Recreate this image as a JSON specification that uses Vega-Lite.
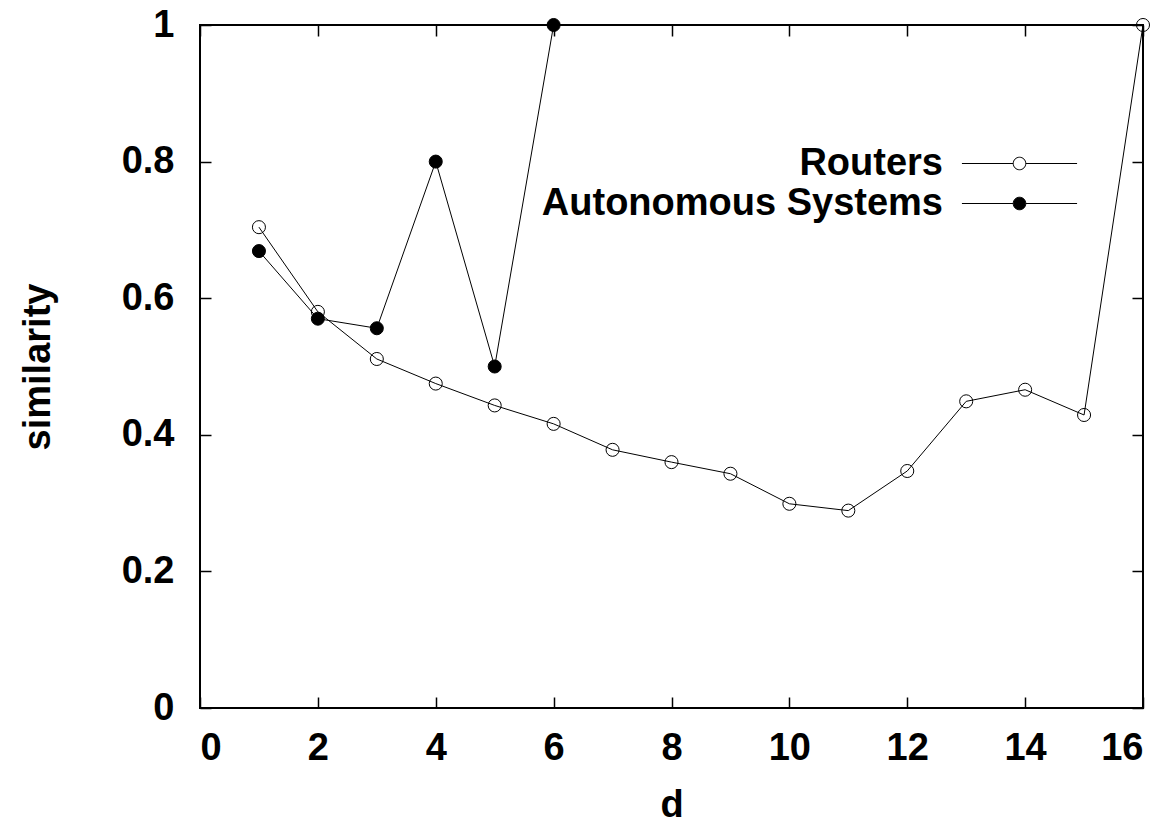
{
  "$schema": "https://vega.github.io/schema/vega-lite/v6.json",
  "width": 943,
  "height": 683,
  "autosize": "none",
  "padding": {"left": 200, "top": 25, "right": 33, "bottom": 119},
  "background": "white",
  "config": {
    "font": "Liberation Sans",
    "view": {"stroke": "#000", "strokeWidth": 2},
    "axis": {
      "domain": false,
      "grid": false,
      "tickColor": "#000",
      "tickWidth": 1.5,
      "tickSize": -11,
      "labelFont": "Liberation Sans",
      "labelFontSize": 38,
      "labelFontWeight": "bold",
      "labelColor": "#000",
      "titleFont": "Liberation Sans",
      "titleFontSize": 38,
      "titleFontWeight": "bold",
      "titleColor": "#000"
    },
    "legend": {
      "labelFont": "Liberation Sans",
      "labelFontSize": 38,
      "labelFontWeight": "bold",
      "labelColor": "#000"
    }
  },
  "data": {
    "values": [
      {"d": 1, "series": "Routers", "similarity": 0.704},
      {"d": 2, "series": "Routers", "similarity": 0.580},
      {"d": 3, "series": "Routers", "similarity": 0.511},
      {"d": 4, "series": "Routers", "similarity": 0.475},
      {"d": 5, "series": "Routers", "similarity": 0.443},
      {"d": 6, "series": "Routers", "similarity": 0.416},
      {"d": 7, "series": "Routers", "similarity": 0.378},
      {"d": 8, "series": "Routers", "similarity": 0.360},
      {"d": 9, "series": "Routers", "similarity": 0.343},
      {"d": 10, "series": "Routers", "similarity": 0.299},
      {"d": 11, "series": "Routers", "similarity": 0.289},
      {"d": 12, "series": "Routers", "similarity": 0.347},
      {"d": 13, "series": "Routers", "similarity": 0.449},
      {"d": 14, "series": "Routers", "similarity": 0.466},
      {"d": 15, "series": "Routers", "similarity": 0.429},
      {"d": 16, "series": "Routers", "similarity": 1.0},
      {"d": 1, "series": "Autonomous Systems", "similarity": 0.669},
      {"d": 2, "series": "Autonomous Systems", "similarity": 0.570},
      {"d": 3, "series": "Autonomous Systems", "similarity": 0.556},
      {"d": 4, "series": "Autonomous Systems", "similarity": 0.8},
      {"d": 5, "series": "Autonomous Systems", "similarity": 0.5},
      {"d": 6, "series": "Autonomous Systems", "similarity": 1.0}
    ]
  },
  "layer": [
    {
      "mark": {"type": "line", "color": "#000", "strokeWidth": 1},
      "encoding": {
        "x": {
          "field": "d", "type": "quantitative",
          "scale": {"domain": [0, 16], "nice": false, "zero": false},
          "axis": {"orient": "bottom", "values": [0, 2, 4, 6, 8, 10, 12, 14, 16], "labelPadding": 32, "title": "d", "titlePadding": 19}
        },
        "y": {
          "field": "similarity", "type": "quantitative",
          "scale": {"domain": [0, 1], "nice": false},
          "axis": {"orient": "left", "values": [0, 0.2, 0.4, 0.6, 0.8, 1], "format": "~g", "labelPadding": 37, "title": "similarity", "titlePadding": 64}
        },
        "detail": {"field": "series"}
      }
    },
    {
      "mark": {"type": "point", "filled": true, "stroke": "#000", "strokeWidth": 1, "size": 170, "shape": "circle", "opacity": 1},
      "encoding": {
        "x": {
          "field": "d", "type": "quantitative",
          "axis": {"orient": "top", "values": [0, 2, 4, 6, 8, 10, 12, 14, 16], "labels": false, "title": null}
        },
        "y": {
          "field": "similarity", "type": "quantitative",
          "axis": {"orient": "right", "values": [0, 0.2, 0.4, 0.6, 0.8, 1], "labels": false, "title": null}
        },
        "fill": {
          "field": "series", "type": "nominal",
          "scale": {"domain": ["Routers", "Autonomous Systems"], "range": ["transparent", "#000"]},
          "legend": {
            "title": null,
            "orient": "none",
            "legendX": 800,
            "legendY": 119,
            "padding": 0,
            "symbolType": "M-3.03,0H-0.33M0.33,0H3.03M-0.33,0A0.33,0.33 0 1,0 0.33,0A0.33,0.33 0 1,0 -0.33,0",
            "symbolSize": 1444,
            "symbolStrokeColor": "#000",
            "symbolStrokeWidth": 1,
            "labelAlign": "right",
            "labelOffset": -96,
            "labelBaseline": "middle",
            "labelLimit": 0,
            "rowPadding": 1
          }
        }
      }
    }
  ]
}
